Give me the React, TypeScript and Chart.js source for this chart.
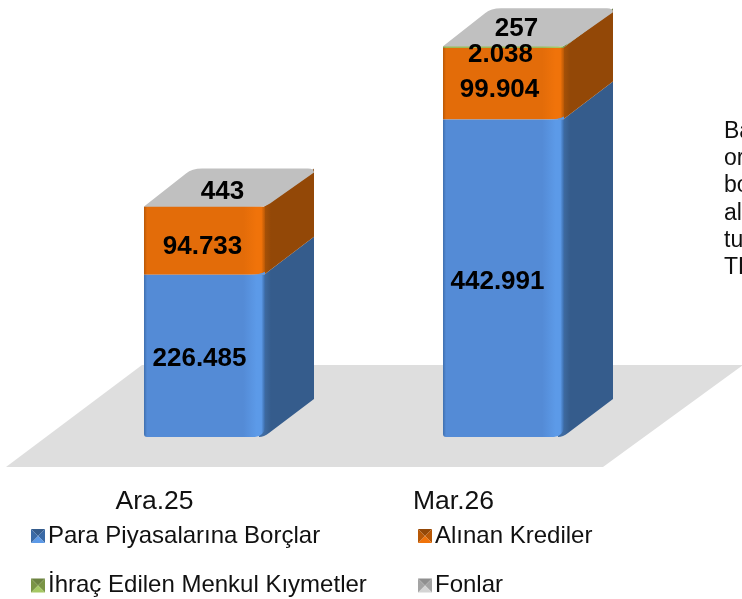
import React, { useEffect, useRef } from "react";
import { Chart, registerables } from "chart.js";

Chart.register(...registerables);

const categories = ["Ara.25", "Mar.26"];
const paraPiyasalari = [226485, 442991];
const alinanKrediler = [94733, 99904];
const ihracEdilen = [0, 2038];
const fonlar = [443, 257];
const seriesNames = ["Para Piyasalarına Borçlar", "Alınan Krediler", "İhraç Edilen Menkul Kıymetler", "Fonlar"];
const sideNote = ["Ba", "or", "bo", "al", "tu", "TL"];

const FONT = '"Liberation Sans", Arial, sans-serif';
const DEPTH_X = 50;
const DEPTH_Y = 38;

const palette = [
  { base: "#548bd6", light: "#5c9ae8", edge: "#3f6fae", side: "#355c8c", sideLight: "#3f6ca3", mid: "#3a6aa6" },
  { base: "#e36c09", light: "#f0730a", edge: "#b85806", side: "#934807", sideLight: "#a85207", mid: "#b85806" },
  { base: "#9bbb59", light: "#a5c863", edge: "#7d9846", side: "#6c8240", sideLight: "#75903f", mid: "#7a9445" },
  { base: "#c0c0c0", light: "#d4d4d4", edge: "#a8a8a8", side: "#8f8f8f", sideLight: "#969696", mid: "#a4a4a4" },
];

// label nudges relative to the segment centre [dataset][category]
const nudges = [
  [[-5, 3], [-6, 4]],
  [[-2, 6], [-4, 6]],
  [[0, 0], [-3, 8]],
  [[18, -15], [13, -18]],
];

const fmt = (v: number) => v.toLocaleString("de-DE");

function frontFill(c: any, ds: number) {
  const chart = c.chart;
  const xs = chart.scales?.x;
  const p = palette[ds];
  if (!xs || c.dataIndex === undefined) return p.base;
  const cx = xs.getPixelForValue(c.dataIndex);
  const w = (xs.width / categories.length) * 0.4047;
  if (!Number.isFinite(cx) || !Number.isFinite(w) || w <= 0) return p.base;
  const g = chart.ctx.createLinearGradient(cx - w / 2, 0, cx + w / 2, 0);
  g.addColorStop(0, p.edge);
  g.addColorStop(0.025, p.base);
  g.addColorStop(0.82, p.base);
  g.addColorStop(0.93, p.light);
  g.addColorStop(0.97, p.light);
  g.addColorStop(1, p.mid);
  return g;
}

const scene = {
  id: "scene",
  beforeDatasetsDraw(chart: any) {
    const { ctx, chartArea } = chart;
    const b = chartArea.bottom;
    const l = chartArea.left;
    // floor
    ctx.save();
    ctx.fillStyle = "#dedede";
    ctx.beginPath();
    ctx.moveTo(l - 49, b + 30);
    ctx.lineTo(l + 548, b + 30);
    ctx.lineTo(l + 688, b - 72);
    ctx.lineTo(l + 87, b - 72);
    ctx.closePath();
    ctx.fill();

    // side faces and top, from the bar elements
    const count = chart.data.datasets.length;
    categories.forEach((_, i) => {
      let topEl: any = null;
      for (let d = 0; d < count; d++) {
        const el = chart.getDatasetMeta(d).data[i];
        const val = chart.data.datasets[d].data[i];
        if (!val) continue;
        topEl = el;
        const r = el.x + el.width / 2 - 1;
        const p = palette[d];
        const g = ctx.createLinearGradient(r, 0, r + DEPTH_X, 0);
        g.addColorStop(0, p.sideLight);
        g.addColorStop(0.14, p.side);
        g.addColorStop(1, p.side);
        ctx.fillStyle = g;
        ctx.beginPath();
        ctx.moveTo(r, el.y);
        ctx.lineTo(r + DEPTH_X, el.y - DEPTH_Y);
        ctx.lineTo(r + DEPTH_X, el.base - DEPTH_Y);
        if (d === 0) {
          ctx.lineTo(r + 5, el.base - 4);
          ctx.quadraticCurveTo(r, el.base, r - 5, el.base);
          ctx.lineTo(r - 5, el.y);
        } else {
          ctx.lineTo(r, el.base);
        }
        ctx.closePath();
        ctx.fill();
      }
      if (topEl) {
        const xl = topEl.x - topEl.width / 2;
        const xr = topEl.x + topEl.width / 2 - 1;
        const y = topEl.y;
        ctx.fillStyle = "#c0c0c0";
        ctx.beginPath();
        ctx.moveTo(xl, y);
        ctx.lineTo(xl + DEPTH_X - 8, y - DEPTH_Y + 5);
        ctx.quadraticCurveTo(xl + DEPTH_X - 2, y - DEPTH_Y, xl + DEPTH_X + 8, y - DEPTH_Y);
        ctx.lineTo(xr + DEPTH_X - 6, y - DEPTH_Y);
        ctx.quadraticCurveTo(xr + DEPTH_X, y - DEPTH_Y, xr + DEPTH_X, y - DEPTH_Y + 4);
        ctx.lineTo(xr + 6, y - 3);
        ctx.quadraticCurveTo(xr, y + 1, xr - 10, y + 1);
        ctx.lineTo(xl + 3, y + 1);
        ctx.closePath();
        ctx.fill();
      }
    });
    ctx.restore();
  },
  afterDatasetsDraw(chart: any) {
    const { ctx } = chart;
    ctx.save();

    // soft rise of the lowest seam near the front-right edge
    chart.getDatasetMeta(1).data.forEach((el: any) => {
      const r = el.x + el.width / 2;
      const y = el.base;
      ctx.fillStyle = palette[0].light;
      ctx.beginPath();
      ctx.moveTo(r - 16, y);
      ctx.quadraticCurveTo(r - 5, y, r, y - 3);
      ctx.lineTo(r, y);
      ctx.closePath();
      ctx.fill();
    });

    // data labels
    ctx.font = `bold 26px ${FONT}`;
    ctx.fillStyle = "#000";
    ctx.textAlign = "center";
    ctx.textBaseline = "middle";
    chart.data.datasets.forEach((ds: any, d: number) => {
      chart.getDatasetMeta(d).data.forEach((el: any, i: number) => {
        const v = ds.data[i];
        if (!v) return;
        const [nx, ny] = nudges[d][i];
        ctx.fillText(fmt(v), el.x + nx, (el.y + el.base) / 2 + ny);
      });
    });

    // side note, cut by the page edge
    ctx.font = `23px ${FONT}`;
    ctx.textAlign = "left";
    ctx.textBaseline = "alphabetic";
    ctx.fillStyle = "#111";
    sideNote.forEach((t, k) => ctx.fillText(t, 724, 138 + k * 27.2));

    // legend
    ctx.font = `24px ${FONT}`;
    ctx.textBaseline = "middle";
    const cols = [31, 418];
    const rows = [536, 585.5];
    seriesNames.forEach((name, k) => {
      const x = cols[k % 2];
      const y = rows[Math.floor(k / 2)];
      const s = 14;
      const t = y - s / 2;
      const p = palette[k];
      const cxm = x + s / 2;
      const cym = y;
      const tri = (ax: number, ay: number, bx: number, by: number, col: string) => {
        ctx.fillStyle = col;
        ctx.beginPath();
        ctx.moveTo(ax, ay);
        ctx.lineTo(bx, by);
        ctx.lineTo(cxm, cym);
        ctx.closePath();
        ctx.fill();
      };
      tri(x, t, x + s, t, p.side);
      tri(x + s, t, x + s, t + s, p.mid);
      tri(x + s, t + s, x, t + s, p.light);
      tri(x, t + s, x, t, p.mid);
      ctx.fillStyle = "#111";
      ctx.fillText(name, x + 17, y);
    });
    ctx.restore();
  },
};

export default function App() {
  const ref = useRef<HTMLCanvasElement>(null);
  useEffect(() => {
    const series = [paraPiyasalari, alinanKrediler, ihracEdilen, fonlar];
    const chart = new Chart(ref.current as HTMLCanvasElement, {
      type: "bar",
      data: {
        labels: categories,
        datasets: series.map((data, d) => ({
          label: seriesNames[d],
          data,
          backgroundColor: (c: any) => frontFill(c, d),
          borderWidth: 0,
          borderRadius: d === 0 ? { bottomLeft: 3, bottomRight: 10, topLeft: 0, topRight: 0 } : 0,
          borderSkipped: false,
          categoryPercentage: 1,
          barPercentage: 0.4047,
        })),
      },
      options: {
        responsive: false,
        animation: false,
        layout: { padding: { left: 55, right: 89, top: 7, bottom: 0 } },
        plugins: { legend: { display: false }, tooltip: { enabled: false } },
        scales: {
          x: {
            stacked: true,
            grid: { display: false, drawTicks: false, tickLength: 0 },
            border: { display: false },
            afterFit: (s: any) => {
              s.height = 162;
            },
            ticks: {
              color: "#111",
              padding: 49,
              labelOffset: -50,
              maxRotation: 0,
              autoSkip: false,
              font: { family: FONT, size: 26.5 },
            },
          },
          y: { stacked: true, display: false, min: 0, max: 600000 },
        },
      },
      plugins: [scene],
    } as any);
    return () => chart.destroy();
  }, []);
  return (
    <div style={{ position: "absolute", left: 0, top: 0, width: 742, height: 599, overflow: "hidden", background: "#fff" }}>
      <canvas ref={ref} width={742} height={599} style={{ display: "block" }} />
    </div>
  );
}
